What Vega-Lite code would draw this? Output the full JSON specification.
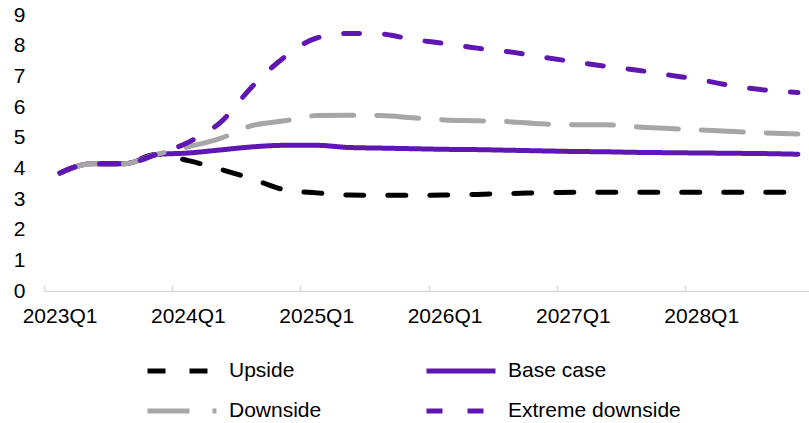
{
  "$schema": "https://vega.github.io/schema/vega-lite/v6.json",
  "autosize": {"type": "none"},
  "padding": {"left": 44, "top": 15, "right": 0, "bottom": 132},
  "width": 765,
  "height": 276,
  "background": "white",
  "config": {
    "view": {"stroke": null},
    "font": "Liberation Sans",
    "axis": {"labelFont": "Liberation Sans", "labelColor": "black", "labelFontSize": 21, "title": null, "grid": false}
  },
  "data": {"values": [
    {"q":"2023Q1","s":"Upside","v":3.85},{"q":"2023Q2","s":"Upside","v":4.15},{"q":"2023Q3","s":"Upside","v":4.15},{"q":"2023Q4","s":"Upside","v":4.45},
    {"q":"2024Q1","s":"Upside","v":4.25},{"q":"2024Q2","s":"Upside","v":3.97},{"q":"2024Q3","s":"Upside","v":3.65},{"q":"2024Q4","s":"Upside","v":3.3},
    {"q":"2025Q1","s":"Upside","v":3.2},{"q":"2025Q2","s":"Upside","v":3.13},{"q":"2025Q3","s":"Upside","v":3.12},{"q":"2025Q4","s":"Upside","v":3.12},
    {"q":"2026Q1","s":"Upside","v":3.13},{"q":"2026Q2","s":"Upside","v":3.15},{"q":"2026Q3","s":"Upside","v":3.18},{"q":"2026Q4","s":"Upside","v":3.2},
    {"q":"2027Q1","s":"Upside","v":3.22},{"q":"2027Q2","s":"Upside","v":3.22},{"q":"2027Q3","s":"Upside","v":3.22},{"q":"2027Q4","s":"Upside","v":3.22},
    {"q":"2028Q1","s":"Upside","v":3.22},{"q":"2028Q2","s":"Upside","v":3.22},{"q":"2028Q3","s":"Upside","v":3.22},{"q":"2028Q4","s":"Upside","v":3.22},

    {"q":"2023Q1","s":"Base case","v":3.85},{"q":"2023Q2","s":"Base case","v":4.15},{"q":"2023Q3","s":"Base case","v":4.15},{"q":"2023Q4","s":"Base case","v":4.45},
    {"q":"2024Q1","s":"Base case","v":4.5},{"q":"2024Q2","s":"Base case","v":4.6},{"q":"2024Q3","s":"Base case","v":4.7},{"q":"2024Q4","s":"Base case","v":4.75},
    {"q":"2025Q1","s":"Base case","v":4.75},{"q":"2025Q2","s":"Base case","v":4.68},{"q":"2025Q3","s":"Base case","v":4.66},{"q":"2025Q4","s":"Base case","v":4.64},
    {"q":"2026Q1","s":"Base case","v":4.62},{"q":"2026Q2","s":"Base case","v":4.61},{"q":"2026Q3","s":"Base case","v":4.59},{"q":"2026Q4","s":"Base case","v":4.57},
    {"q":"2027Q1","s":"Base case","v":4.55},{"q":"2027Q2","s":"Base case","v":4.54},{"q":"2027Q3","s":"Base case","v":4.52},{"q":"2027Q4","s":"Base case","v":4.51},
    {"q":"2028Q1","s":"Base case","v":4.5},{"q":"2028Q2","s":"Base case","v":4.49},{"q":"2028Q3","s":"Base case","v":4.48},{"q":"2028Q4","s":"Base case","v":4.46},

    {"q":"2023Q1","s":"Downside","v":3.85},{"q":"2023Q2","s":"Downside","v":4.15},{"q":"2023Q3","s":"Downside","v":4.15},{"q":"2023Q4","s":"Downside","v":4.45},
    {"q":"2024Q1","s":"Downside","v":4.7},{"q":"2024Q2","s":"Downside","v":4.98},{"q":"2024Q3","s":"Downside","v":5.4},{"q":"2024Q4","s":"Downside","v":5.55},
    {"q":"2025Q1","s":"Downside","v":5.72},{"q":"2025Q2","s":"Downside","v":5.73},{"q":"2025Q3","s":"Downside","v":5.72},{"q":"2025Q4","s":"Downside","v":5.65},
    {"q":"2026Q1","s":"Downside","v":5.58},{"q":"2026Q2","s":"Downside","v":5.55},{"q":"2026Q3","s":"Downside","v":5.52},{"q":"2026Q4","s":"Downside","v":5.45},
    {"q":"2027Q1","s":"Downside","v":5.42},{"q":"2027Q2","s":"Downside","v":5.42},{"q":"2027Q3","s":"Downside","v":5.35},{"q":"2027Q4","s":"Downside","v":5.3},
    {"q":"2028Q1","s":"Downside","v":5.25},{"q":"2028Q2","s":"Downside","v":5.2},{"q":"2028Q3","s":"Downside","v":5.15},{"q":"2028Q4","s":"Downside","v":5.12},

    {"q":"2023Q1","s":"Extreme downside","v":3.85},{"q":"2023Q2","s":"Extreme downside","v":4.15},{"q":"2023Q3","s":"Extreme downside","v":4.15},{"q":"2023Q4","s":"Extreme downside","v":4.45},
    {"q":"2024Q1","s":"Extreme downside","v":4.85},{"q":"2024Q2","s":"Extreme downside","v":5.5},{"q":"2024Q3","s":"Extreme downside","v":6.68},{"q":"2024Q4","s":"Extreme downside","v":7.63},
    {"q":"2025Q1","s":"Extreme downside","v":8.25},{"q":"2025Q2","s":"Extreme downside","v":8.4},{"q":"2025Q3","s":"Extreme downside","v":8.38},{"q":"2025Q4","s":"Extreme downside","v":8.2},
    {"q":"2026Q1","s":"Extreme downside","v":8.07},{"q":"2026Q2","s":"Extreme downside","v":7.92},{"q":"2026Q3","s":"Extreme downside","v":7.8},{"q":"2026Q4","s":"Extreme downside","v":7.63},
    {"q":"2027Q1","s":"Extreme downside","v":7.48},{"q":"2027Q2","s":"Extreme downside","v":7.33},{"q":"2027Q3","s":"Extreme downside","v":7.2},{"q":"2027Q4","s":"Extreme downside","v":7.04},
    {"q":"2028Q1","s":"Extreme downside","v":6.88},{"q":"2028Q2","s":"Extreme downside","v":6.68},{"q":"2028Q3","s":"Extreme downside","v":6.55},{"q":"2028Q4","s":"Extreme downside","v":6.47}
  ]},
  "mark": {"type": "line", "interpolate": "monotone", "strokeWidth": 5, "strokeCap": "round"},
  "encoding": {
    "x": {
      "field": "q", "type": "ordinal", "sort": null,
      "bandPosition": 0.5,
      "scale": {"type": "band", "paddingInner": 0, "paddingOuter": 0, "range": [0, 770]},
      "axis": {
        "values": ["2023Q1","2024Q1","2025Q1","2026Q1","2027Q1","2028Q1"],
        "bandPosition": 0,
        "labelOffset": 0,
        "labelAngle": 0,
        "labelPadding": 20,
        "tickSize": -6,
        "tickColor": "#D9D9D9",
        "tickWidth": 1.5,
        "domainColor": "#D9D9D9",
        "domainWidth": 1.5,
        "labelOverlap": false,
        "labelFlush": false
      }
    },
    "y": {
      "field": "v", "type": "quantitative",
      "scale": {"domain": [0, 9], "nice": false, "zero": true},
      "axis": {"values": [0,1,2,3,4,5,6,7,8,9], "domain": false, "ticks": false, "tickSize": 0, "labelPadding": 19}
    },
    "color": {
      "field": "s", "type": "nominal",
      "scale": {"domain": ["Upside","Base case","Downside","Extreme downside"], "range": ["#000000","#6016B1","#A6A6A6","#6016B1"]},
      "legend": {
        "title": null,
        "orient": "none",
        "direction": "horizontal",
        "gridAlign": "each",
        "legendX": 124,
        "legendY": 342,
        "columns": 2,
        "columnPadding": 94,
        "rowPadding": 16,
        "symbolType": "M-3,0H3",
        "symbolSize": 529,
        "symbolStrokeWidth": 5,
        "labelFontSize": 21,
        "labelColor": "black",
        "labelOffset": 33,
        "labelLimit": 300,
        "padding": 0
      }
    },
    "strokeDash": {
      "field": "s", "type": "nominal",
      "scale": {"domain": ["Upside","Base case","Downside","Extreme downside"], "range": [[18,24],[1,0],[42,23],[16,25]]},
      "legend": null
    }
  }
}
